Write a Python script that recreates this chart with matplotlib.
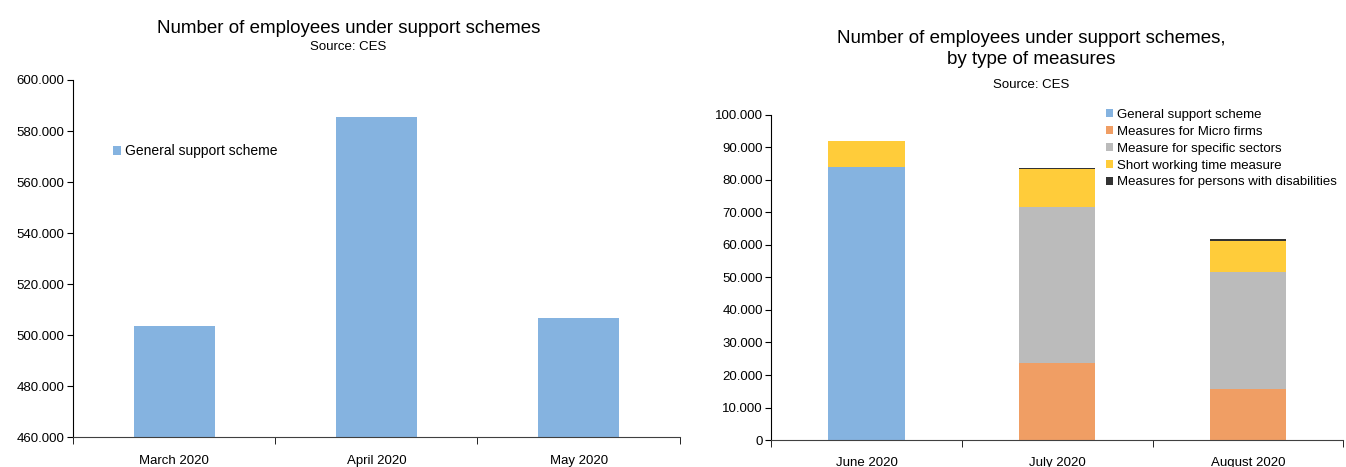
import matplotlib
matplotlib.use("Agg")
import matplotlib.pyplot as plt
from matplotlib.ticker import FuncFormatter, FixedLocator

plt.rcParams['font.family'] = ['Liberation Sans', 'DejaVu Sans']

# Left chart data (thousands)
left_cats = ["March 2020", "April 2020", "May 2020"]
left_vals = [503.5, 585.5, 506.7]

# Right chart data (thousands)
right_cats = ["June 2020", "July 2020", "August 2020"]
general = [84.0, 0.0, 0.0]
micro = [0.0, 23.7, 15.7]
sectors = [0.0, 48.0, 36.0]
short_time = [8.0, 11.7, 9.5]
disab = [0.0, 0.4, 0.5]
series_names = ["General support scheme", "Measures for Micro firms",
                "Measure for specific sectors", "Short working time measure",
                "Measures for persons with disabilities"]
colors = ["#85B3E0", "#F09E64", "#BBBBBB", "#FFCC3A", "#333333"]

fmt = FuncFormatter(lambda v, p: "0" if v == 0 else f"{int(round(v*1000)):,}".replace(",", "."))

fig = plt.figure(figsize=(13.46, 4.67), dpi=100)

def style(ax, pad):
    for s in ["top", "right"]:
        ax.spines[s].set_visible(False)
    ax.spines["left"].set_color("black")
    ax.spines["bottom"].set_color("#404040")
    ax.tick_params(axis="y", direction="out", length=4, labelsize=9.5, pad=2)
    ax.tick_params(axis="x", which="major", length=0, labelsize=9.5, pad=pad)
    ax.tick_params(axis="x", which="minor", direction="out", length=5)
    ax.yaxis.set_major_formatter(fmt)

# Left
ax1 = fig.add_axes([0.0542, 0.0642, 0.4508, 0.7645])
x = list(range(len(left_cats)))
ax1.bar(x, left_vals, width=0.4, color=colors[0], label="General support scheme")
ax1.set_xlim(-0.5, len(left_cats) - 0.5)
ax1.set_ylim(460, 600)
ax1.set_yticks(range(460, 601, 20))
ax1.set_xticks(x)
ax1.set_xticklabels(left_cats)
ax1.xaxis.set_minor_locator(FixedLocator([-0.5, 0.5, 1.5, 2.5]))
style(ax1, 13)
ax1.legend(loc="upper left", bbox_to_anchor=(0.057, 0.835), frameon=False, fontsize=10,
           handlelength=0.55, handleheight=0.55, handletextpad=0.3, borderaxespad=0)
fig.text(0.259, 0.94, "Number of employees under support schemes", ha="center", va="center", fontsize=13.5)
fig.text(0.259, 0.899, "Source: CES", ha="center", va="center", fontsize=9.5)

# Right
ax2 = fig.add_axes([0.573, 0.0578, 0.425, 0.696])
x2 = list(range(len(right_cats)))
bottom = [0.0] * len(right_cats)
for name, vals, c in zip(series_names, [general, micro, sectors, short_time, disab], colors):
    ax2.bar(x2, vals, width=0.4, bottom=bottom, color=c, label=name)
    bottom = [b + v for b, v in zip(bottom, vals)]
ax2.set_xlim(-0.5, len(right_cats) - 0.5)
ax2.set_ylim(0, 100)
ax2.set_yticks(range(0, 101, 10))
ax2.set_xticks(x2)
ax2.set_xticklabels(right_cats)
ax2.xaxis.set_minor_locator(FixedLocator([-0.5, 0.5, 1.5, 2.5]))
style(ax2, 12)
ax2.legend(loc="upper left", bbox_to_anchor=(0.576, 1.035), frameon=False, fontsize=9.5,
           handlelength=0.55, handleheight=0.55, handletextpad=0.3, labelspacing=0.37, borderaxespad=0)
fig.text(0.766, 0.895, "Number of employees under support schemes,\nby type of measures",
         ha="center", va="center", fontsize=13.5, linespacing=1.3)
fig.text(0.766, 0.818, "Source: CES", ha="center", va="center", fontsize=9.5)

fig.savefig("out.png", dpi=100)
